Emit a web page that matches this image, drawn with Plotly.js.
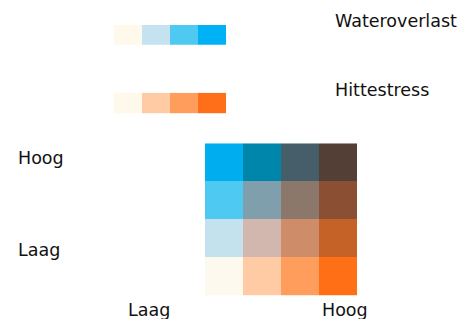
<!DOCTYPE html>
<html>
<head>
<meta charset="utf-8">
<script src="https://cdn.plot.ly/plotly-3.0.1.min.js"></script>
<style>html,body{margin:0;padding:0;background:#fff;}#chart{width:461px;height:319px;}</style>
</head>
<body>
<div id="chart"></div>
<script>
// Levels (Laag -> Hoog)
const levels = [0, 1, 2, 3];
const levelLabels = ['Laag', 'Hoog'];
// Legend colour ramps
const waterColors = ['#FFF9EC', '#C4E2EF', '#4DC9F2', '#00B1F6'];
const heatColors = ['#FFF9EC', '#FFCBA4', '#FF9D5C', '#FF6F19'];
// Bivariate matrix colours: rows = wateroverlast (Laag -> Hoog), cols = hittestress (Laag -> Hoog)
const matrixRow0 = ['#FEF9EE', '#FFCBA4', '#FE9D5C', '#FF6F16'];
const matrixRow1 = ['#C4E1EE', '#D1B7AD', '#CF8C69', '#C56227'];
const matrixRow2 = ['#4EC9F1', '#7F9FAC', '#8C786B', '#8B5033'];
const matrixRow3 = ['#00AEEF', '#0085AB', '#455E6A', '#533F35'];
const legendTitles = ['Wateroverlast', 'Hittestress'];

function discreteScale(colors) {
  const n = colors.length, cs = [];
  colors.forEach((c, i) => { cs.push([i / n, c]); cs.push([(i + 1) / n, c]); });
  return cs;
}

const matrixRows = [matrixRow0, matrixRow1, matrixRow2, matrixRow3];
const matrixColors = matrixRows.flat();
const matrixZ = matrixRows.map((r, ri) => r.map((_, ci) => ri * 4 + ci));

const common = {type: 'heatmap', showscale: false, hoverinfo: 'skip', xgap: 0, ygap: 0};

const traces = [
  Object.assign({}, common, {
    x: levels, y: levels, z: matrixZ,
    zmin: -0.5, zmax: matrixColors.length - 0.5,
    colorscale: discreteScale(matrixColors),
    xaxis: 'x', yaxis: 'y'
  }),
  Object.assign({}, common, {
    x: levels, y: [0], z: [levels],
    zmin: -0.5, zmax: waterColors.length - 0.5,
    colorscale: discreteScale(waterColors),
    xaxis: 'x2', yaxis: 'y2'
  }),
  Object.assign({}, common, {
    x: levels, y: [0], z: [levels],
    zmin: -0.5, zmax: heatColors.length - 0.5,
    colorscale: discreteScale(heatColors),
    xaxis: 'x3', yaxis: 'y3'
  })
];

const W = 461, H = 319;
const px = v => v / W, py = v => 1 - v / H;
const hid = {visible: false, fixedrange: true, range: [-0.5, 3.5]};
const font = {family: 'DejaVu Sans, sans-serif', size: 17.5, color: '#111111'};

function ann(text, x, y, xanchor) {
  return {text: text, x: px(x), y: py(y), xref: 'paper', yref: 'paper',
    xanchor: xanchor || 'left', yanchor: 'middle', showarrow: false, font: font};
}

const layout = {
  width: W, height: H,
  margin: {l: 0, r: 0, t: 0, b: 0},
  paper_bgcolor: '#ffffff', plot_bgcolor: '#ffffff',
  showlegend: false,
  xaxis: Object.assign({}, hid, {domain: [px(205), px(357)]}),
  yaxis: Object.assign({}, hid, {domain: [py(295.7), py(143.3)]}),
  xaxis2: Object.assign({}, hid, {domain: [px(114), px(226)], anchor: 'y2'}),
  yaxis2: Object.assign({}, hid, {domain: [py(44.7), py(25)], range: [-0.5, 0.5], anchor: 'x2'}),
  xaxis3: Object.assign({}, hid, {domain: [px(114), px(226)], anchor: 'y3'}),
  yaxis3: Object.assign({}, hid, {domain: [py(113.3), py(92.7)], range: [-0.5, 0.5], anchor: 'x3'}),
  annotations: [
    ann(legendTitles[0], 332.5, 21),
    ann(legendTitles[1], 332.5, 90),
    ann(levelLabels[1], 15.5, 158),
    ann(levelLabels[0], 15.5, 250),
    ann(levelLabels[0], 125.5, 310),
    ann(levelLabels[1], 319.5, 310)
  ]
};

Plotly.newPlot('chart', traces, layout, {staticPlot: true, displayModeBar: false});
</script>
</body>
</html>
